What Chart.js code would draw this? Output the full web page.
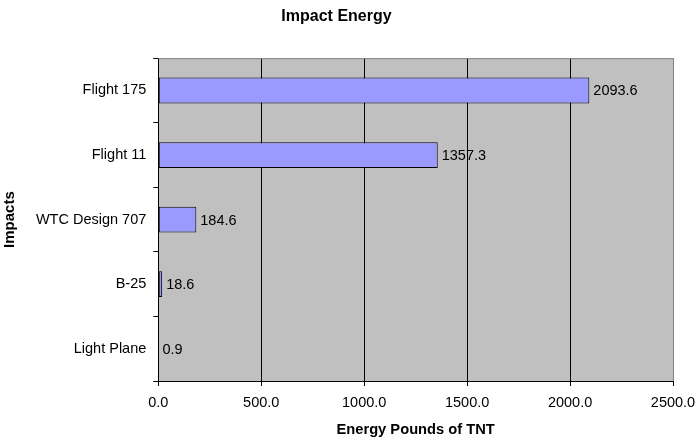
<!DOCTYPE html>
<html>
<head>
<meta charset="utf-8">
<script src="https://cdn.jsdelivr.net/npm/chart.js@4"></script>
<style>
html,body{margin:0;padding:0;background:#fff;}
#wrap{width:695px;height:446px;}
</style>
</head>
<body>
<div id="wrap"><canvas id="c" width="695" height="446"></canvas></div>
<script>
const categories = ["Flight 175", "Flight 11", "WTC Design 707", "B-25", "Light Plane"];
const energyValues = [2093.6, 1357.3, 184.6, 18.6, 0.9];
const xTickValues = [0, 500, 1000, 1500, 2000, 2500];

Chart.defaults.font.family = "'Liberation Sans', Arial, sans-serif";
Chart.defaults.color = '#000';

const plotBg = {
  id: 'plotBg',
  beforeDraw(chart) {
    const {ctx, chartArea: a} = chart;
    ctx.save();
    ctx.fillStyle = '#C0C0C0';
    ctx.fillRect(a.left, a.top, a.right - a.left, a.bottom - a.top);
    ctx.restore();
  },
  beforeDatasetsDraw(chart) {
    const {ctx, chartArea: a} = chart;
    ctx.save();
    ctx.strokeStyle = '#808080';
    ctx.lineWidth = 1;
    ctx.beginPath();
    ctx.moveTo(a.left, a.top + 0.5);
    ctx.lineTo(a.right + 0.5, a.top + 0.5);
    ctx.lineTo(a.right + 0.5, a.bottom);
    ctx.stroke();
    ctx.restore();
  }
};

const valueLabels = {
  id: 'valueLabels',
  afterDatasetsDraw(chart) {
    const {ctx} = chart;
    const meta = chart.getDatasetMeta(0);
    ctx.save();
    ctx.font = "14.5px 'Liberation Sans', Arial, sans-serif";
    ctx.fillStyle = '#000';
    ctx.textAlign = 'left';
    ctx.textBaseline = 'middle';
    meta.data.forEach((bar, i) => {
      ctx.fillText(energyValues[i].toFixed(1), bar.x + 4, bar.y + 1);
    });
    ctx.restore();
  }
};

new Chart(document.getElementById('c'), {
  type: 'bar',
  data: {
    labels: categories,
    datasets: [{
      data: energyValues,
      backgroundColor: '#9999FF',
      borderColor: '#000000',
      borderWidth: 1,
      borderSkipped: false,
      barPercentage: 0.4,
      categoryPercentage: 1.0
    }]
  },
  options: {
    indexAxis: 'y',
    responsive: false,
    animation: false,
    devicePixelRatio: 1,
    layout: { padding: { left: 0, right: 22, top: 0, bottom: 0 } },
    plugins: {
      legend: { display: false },
      tooltip: { enabled: false },
      title: {
        display: true,
        text: 'Impact Energy',
        color: '#000',
        font: { size: 16, weight: 'bold' },
        padding: { top: 7, bottom: 32 }
      }
    },
    scales: {
      x: {
        min: 0,
        max: 2500,
        afterBuildTicks(scale) { scale.ticks = xTickValues.map(v => ({ value: v })); },
        afterFit(scale) { scale.height = 65; scale.paddingLeft = 0; scale.paddingRight = 0; },
        ticks: {
          font: { size: 14.5 },
          color: '#000',
          padding: 8,
          maxRotation: 0,
          callback: v => Number(v).toFixed(1)
        },
        grid: {
          color: ctx => (ctx.tick && ctx.tick.value === 2500) ? '#808080' : '#000',
          tickColor: '#000',
          tickLength: 5,
          lineWidth: 1
        },
        border: { color: '#000', width: 1 },
        title: {
          display: true,
          text: 'Energy Pounds of TNT',
          color: '#000',
          font: { size: 14.7, weight: 'bold' },
          padding: { top: 0, bottom: 7 }
        }
      },
      y: {
        afterFit(scale) { scale.width = 158.3; },
        ticks: {
          font: { size: 14.5 },
          color: '#000',
          padding: 7
        },
        grid: {
          drawOnChartArea: false,
          tickColor: '#000',
          tickLength: 5,
          color: '#000'
        },
        border: { color: '#000', width: 1 },
        title: {
          display: true,
          text: 'Impacts',
          color: '#000',
          font: { size: 15, weight: 'bold' },
          padding: { top: 1, bottom: 0 }
        }
      }
    }
  },
  plugins: [plotBg, valueLabels]
});
</script>
</body>
</html>
